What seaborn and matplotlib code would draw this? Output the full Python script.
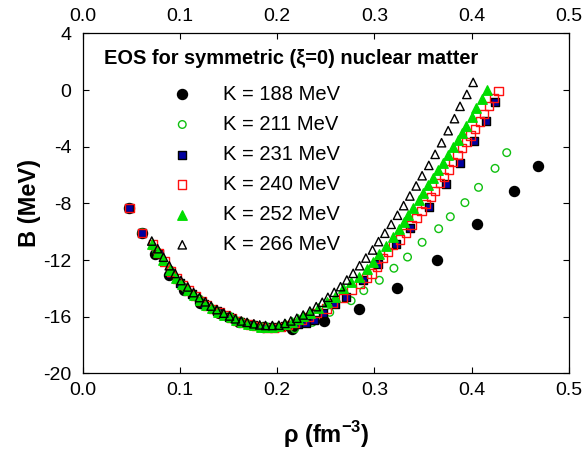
import numpy as np
import pandas as pd
import matplotlib
matplotlib.use("Agg")
import matplotlib.pyplot as plt
import seaborn as sns

# density (fm^-3) and binding energy per nucleon (MeV)
rho_188 = [0.048, 0.061, 0.074, 0.089, 0.104, 0.121, 0.140, 0.161, 0.185, 0.215,
           0.248, 0.284, 0.323, 0.364, 0.405, 0.443, 0.468]
B_188 = [-8.35, -10.07, -11.6, -13.05, -14.1, -15.0, -15.75, -16.35, -16.75, -16.85,
         -16.3, -15.43, -13.95, -11.98, -9.48, -7.13, -5.34]

rho_211 = [0.048, 0.061, 0.076, 0.090, 0.105, 0.120, 0.135, 0.150, 0.166, 0.183,
           0.200, 0.218, 0.236, 0.254, 0.276, 0.289, 0.305, 0.320, 0.334, 0.349,
           0.366, 0.378, 0.393, 0.407, 0.424, 0.436]
B_211 = [-8.35, -10.07, -11.35, -12.7, -13.95, -14.75, -15.5, -16.0, -16.45, -16.7,
         -16.8, -16.85, -16.4, -15.69, -14.87, -14.16, -13.43, -12.58, -11.79, -10.75,
         -9.79, -8.94, -7.95, -6.87, -5.53, -4.42]

rho_231 = [0.048, 0.061, 0.078, 0.090, 0.100, 0.112, 0.125, 0.138, 0.150, 0.162,
           0.175, 0.188, 0.198, 0.208, 0.221, 0.230, 0.238, 0.247, 0.259, 0.271,
           0.288, 0.304, 0.322, 0.337, 0.356, 0.374, 0.388, 0.402, 0.415, 0.424]
B_231 = [-8.35, -10.07, -11.6, -13.0, -13.65, -14.4, -15.1, -15.6, -16.05, -16.4,
         -16.6, -16.75, -16.75, -16.66, -16.53, -16.42, -16.23, -15.76, -15.12, -14.59,
         -13.41, -12.3, -10.87, -9.72, -8.24, -6.63, -5.17, -3.58, -2.17, -0.82]

rho_240 = [0.048, 0.061, 0.072, 0.078, 0.084, 0.091, 0.097, 0.103, 0.109, 0.116,
           0.122, 0.128, 0.134, 0.141, 0.147, 0.153, 0.159, 0.166, 0.172, 0.178,
           0.184, 0.190, 0.197, 0.204, 0.211, 0.218, 0.225, 0.232, 0.2405, 0.2507,
           0.2576, 0.2678, 0.2765, 0.285, 0.2919, 0.297, 0.3028, 0.309, 0.3141, 0.3192,
           0.3261, 0.3323, 0.3381, 0.3433, 0.3484, 0.3525, 0.358, 0.3621, 0.3672, 0.3717,
           0.3765, 0.3809, 0.3854, 0.3902, 0.3946, 0.3988, 0.4035, 0.4082, 0.4128, 0.4179,
           0.4227, 0.4275]
B_240 = [-8.35, -10.07, -10.9, -11.5, -12.1, -12.8, -13.3, -13.75, -14.15, -14.55,
         -14.9, -15.2, -15.45, -15.7, -15.9, -16.1, -16.3, -16.45, -16.55, -16.65,
         -16.72, -16.78, -16.82, -16.72, -16.6, -16.45, -16.25, -16.0, -15.76, -15.41,
         -15.05, -14.7, -14.11, -13.71, -13.29, -12.94, -12.47, -11.88, -11.41, -10.94,
         -10.54, -10.07, -9.53, -9.05, -8.52, -8.05, -7.57, -7.11, -6.58, -6.12,
         -5.6, -5.1, -4.59, -4.11, -3.65, -3.22, -2.77, -2.23, -1.69, -1.11,
         -0.56, -0.05]

rho_252 = [0.071, 0.077, 0.083, 0.090, 0.096, 0.102, 0.108, 0.114, 0.121, 0.127,
           0.133, 0.139, 0.145, 0.152, 0.158, 0.164, 0.170, 0.176, 0.183, 0.189,
           0.195, 0.201, 0.208, 0.2148, 0.221, 0.227, 0.2336, 0.2421, 0.2507, 0.2593,
           0.2678, 0.2757, 0.2843, 0.2919, 0.298, 0.3048, 0.3114, 0.3186, 0.3254, 0.3302,
           0.3346, 0.3398, 0.3453, 0.35, 0.3552, 0.3604, 0.3655, 0.37, 0.3755, 0.3803,
           0.3854, 0.3902, 0.3946, 0.3998, 0.4049, 0.4107, 0.4159]
B_252 = [-10.85, -11.4, -12.0, -12.7, -13.25, -13.7, -14.1, -14.45, -14.85, -15.15,
         -15.4, -15.65, -15.85, -16.05, -16.25, -16.4, -16.5, -16.6, -16.7, -16.75,
         -16.72, -16.65, -16.5, -16.35, -16.15, -15.95, -15.71, -15.41, -14.94, -14.59,
         -13.99, -13.53, -13.2, -12.65, -12.16, -11.55, -10.99, -10.4, -9.83, -9.32,
         -8.84, -8.3, -7.79, -7.25, -6.73, -6.19, -5.65, -5.13, -4.59, -4.05,
         -3.53, -3.06, -2.52, -1.93, -1.29, -0.66, 0.0]

rho_266 = [0.071, 0.077, 0.083, 0.089, 0.095, 0.101, 0.108, 0.114, 0.120, 0.126,
           0.132, 0.138, 0.145, 0.151, 0.157, 0.163, 0.169, 0.176, 0.182, 0.188,
           0.195, 0.2017, 0.2079, 0.214, 0.2202, 0.2267, 0.2336, 0.2401, 0.2463, 0.2521,
           0.2586, 0.2651, 0.2716, 0.2781, 0.2847, 0.2912, 0.298, 0.3042, 0.3107, 0.3172,
           0.3237, 0.330, 0.3364, 0.3429, 0.349, 0.3559, 0.3624, 0.369, 0.3758, 0.3823,
           0.388, 0.395, 0.4015]
B_266 = [-10.66, -11.2, -11.8, -12.4, -12.95, -13.45, -13.9, -14.3, -14.65, -14.95,
         -15.25, -15.5, -15.75, -15.95, -16.15, -16.3, -16.4, -16.5, -16.58, -16.62,
         -16.62, -16.6, -16.47, -16.3, -16.11, -15.88, -15.6, -15.29, -14.98, -14.63,
         -14.28, -13.88, -13.41, -12.94, -12.4, -11.86, -11.29, -10.7, -10.11, -9.48,
         -8.84, -8.16, -7.48, -6.77, -6.05, -5.32, -4.54, -3.72, -2.87, -2.02,
         -1.15, -0.31, 0.54]

x_ticks = [0.0, 0.1, 0.2, 0.3, 0.4, 0.5]
y_ticks = [-20, -16, -12, -8, -4, 0, 4]

series = [
    # label, rho, B, marker, size, face, edge
    ("K = 188 MeV", rho_188, B_188, "o", 52, "black", "black"),
    ("K = 211 MeV", rho_211, B_211, "o", 30, "none", "#10c010"),
    ("K = 231 MeV", rho_231, B_231, "s", 30, "#0000a0", "black"),
    ("K = 240 MeV", rho_240, B_240, "s", 36, "none", "#ff1010"),
    ("K = 252 MeV", rho_252, B_252, "^", 46, "#00dd00", "#00dd00"),
    ("K = 266 MeV", rho_266, B_266, "^", 36, "none", "black"),
]

sns.set_style("ticks")
plt.rcParams["font.family"] = ["Liberation Sans", "DejaVu Sans"]
plt.rcParams["axes.unicode_minus"] = False
plt.rcParams["mathtext.fontset"] = "custom"
plt.rcParams["mathtext.rm"] = "Liberation Sans:bold"
plt.rcParams["mathtext.bf"] = "Liberation Sans:bold"
for key in ["text.color", "axes.labelcolor", "xtick.color", "ytick.color", "axes.edgecolor"]:
    plt.rcParams[key] = "black"

fig = plt.figure(figsize=(5.83, 4.57), dpi=100)
ax = fig.add_axes([0.1419, 0.183, 0.834, 0.744])

for label, rho, B, marker, size, face, edge in series:
    df = pd.DataFrame({"rho": rho, "B": B})
    sns.scatterplot(data=df, x="rho", y="B", marker=marker, s=size,
                    facecolors=face, edgecolor=edge, linewidth=1.0,
                    label=label, ax=ax, zorder=3)

ax.set_xlim(0, 0.5)
ax.set_ylim(-20, 4)
ax.set_xticks(x_ticks)
ax.set_yticks(y_ticks)
ax.set_xticklabels([f"{v:.1f}" for v in x_ticks])
ax.set_yticklabels([str(v) for v in y_ticks])
ax.tick_params(direction="in", length=4, width=0.8, top=True, right=True,
               labeltop=True, labelsize=14, colors="black")
ax.tick_params(axis="x", pad=6)
ax.tick_params(axis="y", pad=8)
for sp in ax.spines.values():
    sp.set_linewidth(0.9)
    sp.set_color("black")

ax.set_xlabel(r"ρ (fm$^{\mathbf{-3}}$)", fontsize=17, fontweight="bold", labelpad=15)
ax.set_ylabel("B (MeV)", fontsize=17, fontweight="bold")
ax.yaxis.set_label_coords(-0.086, 0.5)

ax.text(0.044, 0.9265, "EOS for symmetric (ξ=0) nuclear matter", transform=ax.transAxes,
        fontsize=14.4, fontweight="bold", ha="left", va="center")

ax.legend(loc="upper left", bbox_to_anchor=(0.184, 0.849), frameon=False,
          fontsize=14.5, handlelength=1.0, handletextpad=1.52, labelspacing=0.55,
          borderpad=0, borderaxespad=0, scatterpoints=1)

fig.savefig("out.png", dpi=100)
